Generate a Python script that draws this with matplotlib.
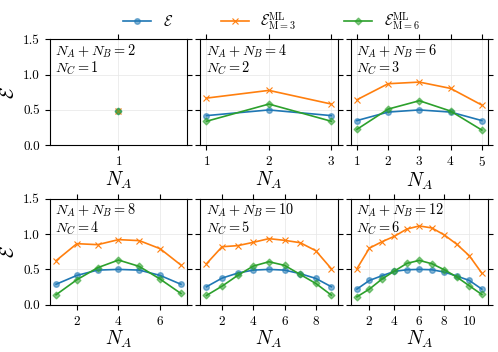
import numpy as np
import matplotlib
matplotlib.use("Agg")
import matplotlib.pyplot as plt

plt.rcParams["mathtext.fontset"] = "cm"
plt.rcParams["font.family"] = "serif"
plt.rcParams["font.serif"] = ["cmr10"]
plt.rcParams["axes.formatter.use_mathtext"] = True

# entanglement per panel (N_A + N_B = 2, 4, ..., 12)
totals = [2, 4, 6, 8, 10, 12]
ent = [
    [0.49],
    [0.42, 0.50, 0.42],
    [0.35, 0.47, 0.50, 0.47, 0.35],
    [0.29, 0.415, 0.49, 0.50, 0.49, 0.415, 0.29],
    [0.255, 0.377, 0.448, 0.49, 0.50, 0.49, 0.44, 0.373, 0.255],
    [0.222, 0.344, 0.41, 0.472, 0.495, 0.50, 0.495, 0.462, 0.406, 0.344, 0.222],
]
ml3 = [
    [0.49],
    [0.667, 0.776, 0.583],
    [0.644, 0.87, 0.893, 0.804, 0.569],
    [0.623, 0.863, 0.849, 0.92, 0.906, 0.792, 0.561],
    [0.58, 0.82, 0.835, 0.882, 0.934, 0.91, 0.877, 0.764, 0.509],
    [0.509, 0.80, 0.89, 0.967, 1.07, 1.113, 1.085, 0.986, 0.854, 0.693, 0.448],
]
ml6 = [
    [0.49],
    [0.34, 0.583, 0.34],
    [0.226, 0.512, 0.63, 0.484, 0.216],
    [0.142, 0.354, 0.524, 0.632, 0.542, 0.363, 0.16],
    [0.132, 0.264, 0.415, 0.547, 0.608, 0.557, 0.429, 0.302, 0.137],
    [0.113, 0.222, 0.363, 0.476, 0.585, 0.627, 0.58, 0.495, 0.392, 0.269, 0.146],
]
xticks = [[1], [1, 2, 3], [1, 2, 3, 4, 5], [2, 4, 6], [2, 4, 6, 8], [2, 4, 6, 8, 10]]

fig, axes = plt.subplots(2, 3, figsize=(4.98, 3.52), dpi=100, sharey=True)
fig.subplots_adjust(left=0.1, right=0.98, top=0.889, bottom=0.134,
                    wspace=0.095, hspace=0.5)

for i, ax in enumerate(axes.flat):
    n = totals[i]
    na = np.arange(1, n)
    l1, = ax.plot(na, ent[i], "-o", color="C0", ms=4, lw=1.2, mfc=(0.12, 0.47, 0.71, 0.55),
                  mec=(0.12, 0.47, 0.71, 0.55), label=r"$\mathcal{E}$")
    l2, = ax.plot(na, ml3[i], "-x", color="C1", ms=4, lw=1.2, mew=0.8,
                  label=r"$\mathcal{E}^{\rm ML}_{\rm M=3}$")
    l3, = ax.plot(na, ml6[i], "-D", color="C2", ms=3.5, lw=1.2, mfc=(0.17, 0.63, 0.17, 0.55),
                  mec=(0.17, 0.63, 0.17, 0.55), label=r"$\mathcal{E}^{\rm ML}_{\rm M=6}$")
    if n == 2:
        ax.set_xlim(0, 2)
    ax.set_xticks(xticks[i])
    ax.set_ylim(0, 1.5)
    ax.set_yticks([0, 0.5, 1.0, 1.5])
    ax.yaxis.set_major_formatter(matplotlib.ticker.FormatStrFormatter("%.1f"))
    ax.tick_params(direction="out", top=True, right=True, labelsize=9.5)
    ax.grid(True, color="0.9", lw=0.5)
    ax.set_xlabel(r"$N_A$", fontsize=14, labelpad=1)
    if i % 3 == 0:
        ax.set_ylabel(r"$\mathcal{E}$", fontsize=14)
    ax.text(0.04, 0.97, r"$N_A+N_B=%d$" % n + "\n" + r"$N_C=%d$" % (n // 2),
            transform=ax.transAxes, ha="left", va="top", fontsize=10.3, linespacing=1.0)

fig.legend(handles=[l1, l2, l3], loc="upper center", ncol=3, frameon=False,
           bbox_to_anchor=(0.545, 1.008), fontsize=10.5, handlelength=1.9,
           columnspacing=3.3)

fig.savefig("out.png", dpi=100)
